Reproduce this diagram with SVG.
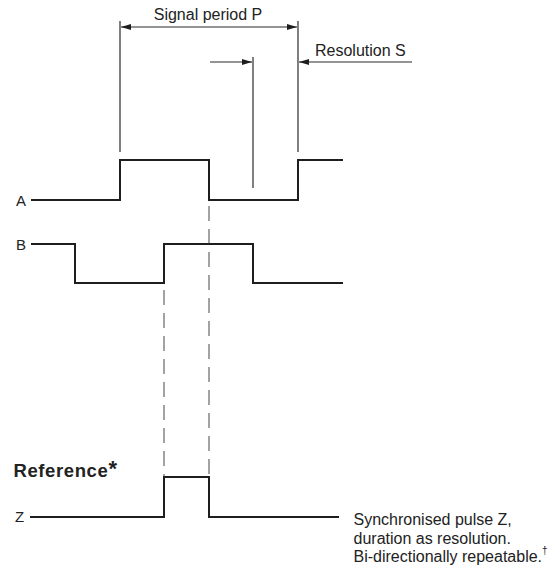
<svg xmlns="http://www.w3.org/2000/svg" width="549" height="567" viewBox="0 0 549 567">
<style>
text { font-family: "Liberation Sans", Arial, sans-serif; fill: #222; }
.lbl { font-size: 16px; }
.sig { font-size: 15px; }
.wave { fill: none; stroke: #1e1e1e; stroke-width: 2; stroke-linejoin: miter; }
.dim { fill: none; stroke: #2a2a2a; stroke-width: 1.2; }
.dash { fill: none; stroke: #666; stroke-width: 1.2; stroke-dasharray: 15 8; }
</style>
<defs>
<marker id="ah" viewBox="0 0 10 6" refX="10" refY="3" markerWidth="10" markerHeight="6" markerUnits="userSpaceOnUse" orient="auto-start-reverse">
<path d="M0,0 L10,3 L0,6 Z" fill="#1e1e1e"/>
</marker>
</defs>
<rect width="549" height="567" fill="#fff"/>
<g id="connectors">
<line class="dim" x1="120" y1="21" x2="120" y2="152"/>
<line class="dim" x1="298" y1="21" x2="298" y2="152"/>
<line class="dim" x1="121" y1="27" x2="297" y2="27" marker-start="url(#ah)" marker-end="url(#ah)"/>
<line class="dim" x1="210" y1="62" x2="252" y2="62" marker-end="url(#ah)"/>
<line class="dim" x1="253" y1="57" x2="253" y2="188"/>
<line class="dim" x1="412" y1="62" x2="299" y2="62" marker-end="url(#ah)"/>
<line class="dash" x1="164" y1="290" x2="164" y2="476"/>
<line class="dash" x1="209" y1="206" x2="209" y2="476"/>
</g>
<g id="signal-period">
<text class="lbl" x="208" y="19.5" text-anchor="middle">Signal period P</text>
</g>
<g id="resolution">
<text class="lbl" x="315" y="55.5">Resolution S</text>
</g>
<g id="signal-A">
<text class="sig" x="16" y="205.5">A</text>
<polyline class="wave" points="31,200 120,200 120,160 209,160 209,200 298,200 298,160 343,160"/>
</g>
<g id="signal-B">
<text class="sig" x="16" y="250">B</text>
<polyline class="wave" points="31,244 75,244 75,283 164,283 164,244 253,244 253,283 343,283"/>
</g>
<g id="reference">
<text x="13.5" y="476.5" style="font-size:18.5px;font-weight:bold;letter-spacing:0.6px">Reference<tspan style="font-size:22px" dy="-1">*</tspan></text>
</g>
<g id="signal-Z">
<text class="sig" x="15" y="522">Z</text>
<polyline class="wave" points="30,517 164,517 164,477 209,477 209,517 339,517"/>
</g>
<g id="note">
<text class="lbl" x="353.5" y="525">Synchronised pulse Z,</text>
<text class="lbl" x="353.5" y="543.5">duration as resolution.</text>
<text class="lbl" x="353.5" y="562">Bi-directionally repeatable.<tspan style="font-size:10px" dy="-8">†</tspan></text>
</g>
</svg>
